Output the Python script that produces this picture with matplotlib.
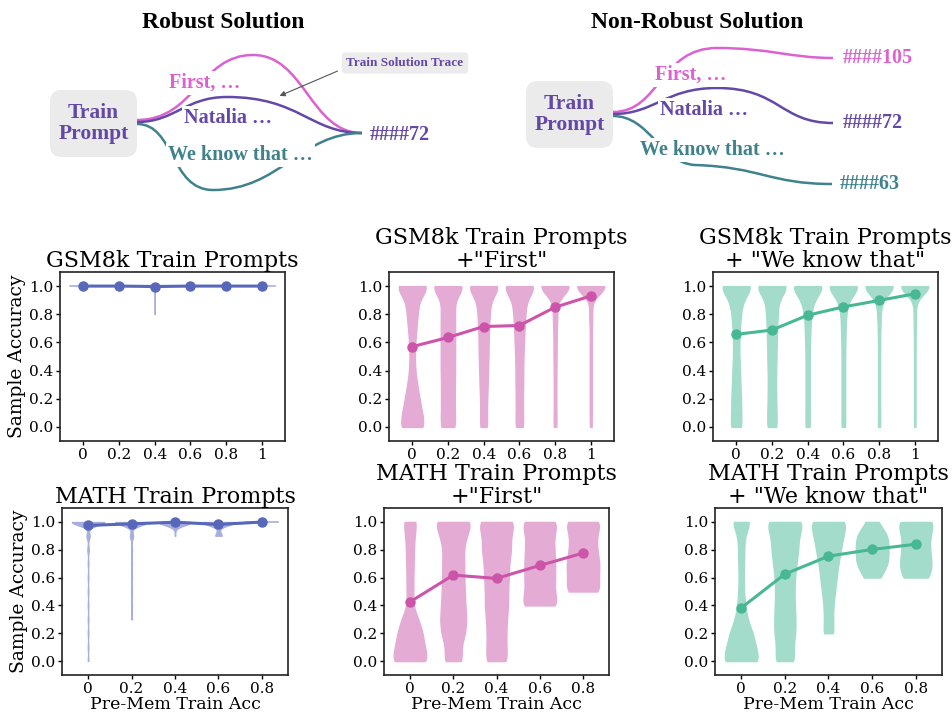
import numpy as np
import matplotlib
matplotlib.use('Agg')
import matplotlib.pyplot as plt
from matplotlib.path import Path
from matplotlib.patches import PathPatch, FancyBboxPatch

# accuracy levels for the per-prompt sample counts (0.0, 0.1, ..., 1.0)
levels = np.round(np.arange(11) * 0.1, 1)

gsm_ticks = ['0', '0.2', '0.4', '0.6', '0.8', '1']
math_ticks = ['0', '0.2', '0.4', '0.6', '0.8']

# GSM8k, plain train prompts
gsm_base_counts = [
    [0, 0, 0, 0, 0, 0, 0, 0, 0, 0, 60],
    [0, 0, 0, 0, 0, 0, 0, 0, 0, 0, 60],
    [0, 0, 0, 0, 0, 0, 0, 0, 1, 0, 60],
    [0, 0, 0, 0, 0, 0, 0, 0, 0, 0, 60],
    [0, 0, 0, 0, 0, 0, 0, 0, 0, 0, 60],
    [0, 0, 0, 0, 0, 0, 0, 0, 0, 0, 60],
]
gsm_base_mean = [1.0, 1.0, 0.997, 1.0, 1.0, 1.0]

# GSM8k + "First"
gsm_first_counts = [
    [46, 36, 27, 18, 11, 9, 11, 15, 20, 24, 66],
    [28, 25, 25, 25, 26, 26, 26, 26, 26, 24, 66],
    [14, 12, 13, 15, 16, 18, 18, 20, 22, 26, 66],
    [15, 13, 13, 14, 14, 15, 17, 19, 22, 26, 66],
    [6, 5, 5, 5, 5, 6, 6, 7, 9, 8, 76],
    [4, 4, 4, 4, 4, 4, 4, 4, 7, 2, 80],
]
gsm_first_mean = [0.57, 0.635, 0.713, 0.72, 0.85, 0.93]

# GSM8k + "We know that"
gsm_know_counts = [
    [22, 19, 19, 16, 15, 12, 12, 14, 18, 26, 70],
    [19, 17, 16, 15, 16, 17, 18, 19, 22, 24, 68],
    [9, 8, 8, 8, 8, 8, 9, 11, 13, 24, 70],
    [8, 7, 7, 7, 7, 7, 8, 9, 11, 20, 74],
    [5, 4, 4, 4, 4, 4, 4, 5, 7, 10, 76],
    [3, 3, 3, 3, 3, 3, 3, 4, 5, 3, 80],
]
gsm_know_mean = [0.657, 0.688, 0.793, 0.852, 0.898, 0.945]

# MATH, plain train prompts
math_base_counts = [
    [1, 1, 1, 1, 1, 1, 1, 1, 2, 4, 40],
    [0, 0, 0, 1, 1, 1, 1, 1, 1, 3, 30],
    [0, 0, 0, 0, 0, 0, 0, 0, 0, 1, 40],
    [0, 0, 0, 0, 0, 0, 0, 0, 0, 5, 25],
    [0, 0, 0, 0, 0, 0, 0, 0, 0, 0, 40],
]
math_base_mean = [0.975, 0.986, 0.998, 0.982, 0.999]

# MATH + "First"
math_first_counts = [
    [66, 52, 45, 30, 10, 12, 12, 13, 14, 16, 24],
    [34, 28, 44, 48, 44, 42, 40, 40, 38, 48, 72],
    [40, 36, 36, 38, 43, 42, 45, 46, 54, 52, 70],
    [0, 0, 0, 0, 56, 44, 46, 46, 44, 42, 56],
    [0, 0, 0, 0, 0, 52, 46, 50, 42, 40, 56],
]
math_first_mean = [0.425, 0.618, 0.594, 0.687, 0.776]

# MATH + "We know that"
math_know_counts = [
    [68, 52, 42, 22, 14, 10, 9, 10, 11, 12, 36],
    [36, 30, 38, 38, 36, 34, 36, 42, 48, 50, 70],
    [0, 0, 20, 16, 18, 24, 30, 36, 46, 54, 70],
    [0, 0, 0, 0, 0, 0, 20, 40, 40, 40, 14],
    [0, 0, 0, 0, 0, 0, 36, 42, 36, 36, 50],
]
math_know_mean = [0.382, 0.625, 0.754, 0.802, 0.84]

plt.rcParams['font.family'] = 'DejaVu Serif'

W, H = 953, 719
fig = plt.figure(figsize=(W / 100, H / 100), dpi=100)


def px_axes(l, t, r, b):
    return fig.add_axes([l / W, 1 - b / H, (r - l) / W, (b - t) / H])


# ---------- schematic on top (pixel coordinates) ----------
dax = fig.add_axes([0, 0, 1, 1])
dax.set_xlim(0, W)
dax.set_ylim(H, 0)
dax.axis('off')

PINK = '#dc62d0'
PURPLE = '#6448a8'
TEAL = '#3f828c'
dfont = dict(family='Liberation Serif', weight='bold')


def curve(p0, c1, c2, p1, c3, c4, p2, color):
    verts = [p0, c1, c2, p1, c3, c4, p2]
    codes = [Path.MOVETO] + [Path.CURVE4] * 6
    dax.add_patch(PathPatch(Path(verts, codes), fill=False, edgecolor=color,
                            lw=1.8, zorder=1))


def label(x, y, s, color, size=14.5, ha='left'):
    dax.text(x, y, s, color=color, fontsize=size, ha=ha, va='center', zorder=3,
             bbox=dict(boxstyle='square,pad=0.1', fc='white', ec='none'), **dfont)


def prompt_box(x0, y0, x1, y1):
    dax.add_patch(FancyBboxPatch((x0, y0), x1 - x0, y1 - y0,
                                 boxstyle='round,pad=0,rounding_size=12',
                                 fc='#ebebeb', ec='none', zorder=2))
    dax.text((x0 + x1) / 2, (y0 + y1) / 2, 'Train\nPrompt', color=PURPLE,
             fontsize=15.5, ha='center', va='center', linespacing=1.1, zorder=3, **dfont)


# robust solution
dax.text(223, 22, 'Robust Solution', fontsize=17, ha='center', va='center', **dfont)
prompt_box(50, 90, 137, 157)
curve((137, 120), (195, 120), (200, 55), (253, 55), (305, 55), (310, 133), (362, 133), PINK)
curve((137, 122), (175, 122), (185, 97), (227, 97), (300, 97), (310, 133), (362, 133), PURPLE)
curve((137, 124), (175, 124), (170, 190), (213, 190), (280, 190), (300, 133), (362, 133), TEAL)
label(169, 83, 'First, …', PINK)
label(184, 118, 'Natalia …', PURPLE)
label(168, 155, 'We know that …', TEAL)
dax.text(370, 135, '####72', color=PURPLE, fontsize=14.5, va='center', **dfont)
dax.annotate('', xy=(277, 97), xytext=(340, 70),
             arrowprops=dict(arrowstyle='-|>', color='#555555', lw=0.8,
                             mutation_scale=8))
dax.text(405, 63, 'Train Solution Trace', color=PURPLE, fontsize=9.5, ha='center',
         va='center', zorder=3,
         bbox=dict(boxstyle='round,pad=0.35,rounding_size=0.3', fc='#ececec', ec='none'),
         **dfont)

# non-robust solution
dax.text(697, 22, 'Non-Robust Solution', fontsize=17, ha='center', va='center', **dfont)
prompt_box(526, 81, 613, 148)
curve((613, 112), (660, 112), (660, 48), (717, 48), (770, 48), (790, 58), (833, 58), PINK)
curve((613, 114), (655, 114), (665, 88), (717, 88), (780, 88), (780, 123), (833, 123), PURPLE)
curve((613, 116), (650, 116), (660, 163), (695, 165), (760, 167), (770, 184), (832, 184), TEAL)
label(655, 75, 'First, …', PINK)
label(660, 110, 'Natalia …', PURPLE)
label(640, 150, 'We know that …', TEAL)
dax.text(843, 58, '####105', color=PINK, fontsize=14.5, va='center', **dfont)
dax.text(843, 123, '####72', color=PURPLE, fontsize=14.5, va='center', **dfont)
dax.text(840, 184, '####63', color=TEAL, fontsize=14.5, va='center', **dfont)


# ---------- violin panels ----------
def draw_violin(ax, pos, counts, bw, color, lw):
    counts = np.asarray(counts, float)
    vals = levels[counts > 0]
    lo, hi = vals.min(), vals.max()
    if lo == hi:
        ax.plot([pos - 0.375, pos + 0.375], [hi, hi], color=color, lw=1.2, zorder=1)
        return
    y = np.linspace(lo, hi, 500)
    dens = (counts[None, :] * np.exp(-0.5 * ((y[:, None] - levels[None, :]) / bw) ** 2)).sum(1)
    half = 0.375 * dens / dens.max()
    ax.fill_betweenx(y, pos - half, pos + half, facecolor=color, edgecolor=color,
                     lw=lw, zorder=1)


BLUE_V, BLUE_L = '#a7afdb', '#5767ba'
PINK_V, PINK_L = '#e4abd4', '#cc55aa'
TEAL_V, TEAL_L = '#a4dccb', '#47b893'

panels = [
    ((60, 272, 285, 441), 'GSM8k Train Prompts', gsm_base_counts, gsm_base_mean,
     gsm_ticks, BLUE_V, BLUE_L, 0.005),
    ((389, 272, 614, 441), 'GSM8k Train Prompts\n+"First"', gsm_first_counts,
     gsm_first_mean, gsm_ticks, PINK_V, PINK_L, 0.06),
    ((713, 272, 938, 441), 'GSM8k Train Prompts\n+ "We know that"', gsm_know_counts,
     gsm_know_mean, gsm_ticks, TEAL_V, TEAL_L, 0.06),
    ((62, 508, 288, 675), 'MATH Train Prompts', math_base_counts, math_base_mean,
     math_ticks, BLUE_V, BLUE_L, 0.025),
    ((384, 508, 609, 675), 'MATH Train Prompts\n+"First"', math_first_counts,
     math_first_mean, math_ticks, PINK_V, PINK_L, 0.06),
    ((715, 508, 942, 675), 'MATH Train Prompts\n+ "We know that"', math_know_counts,
     math_know_mean, math_ticks, TEAL_V, TEAL_L, 0.06),
]

for i, (rect, title, counts, means, ticks, vcol, lcol, bw) in enumerate(panels):
    ax = px_axes(*rect)
    n = len(ticks)
    for k in range(n):
        draw_violin(ax, k, counts[k], bw, vcol, 0.8 if vcol == BLUE_V else 1.0)
    ax.plot(range(n), means, '-o', color=lcol, lw=2.2, ms=6.5, zorder=3)
    pad = 0.65 if n == 6 else 0.6
    ax.set_xlim(-pad, n - 1 + pad)
    ax.set_ylim(-0.1, 1.1)
    ax.set_xticks(range(n))
    ax.set_xticklabels(ticks)
    ax.set_yticks(np.arange(0, 1.01, 0.2))
    ax.set_yticklabels(['%.1f' % v for v in np.arange(0, 1.01, 0.2)])
    ax.tick_params(labelsize=11, length=3, width=1, pad=2)
    for s in ax.spines.values():
        s.set_linewidth(1.2)
        s.set_color('#222222')
    ax.set_title(title, fontsize=16, pad=3, linespacing=1.05)
    if i % 3 == 0:
        ax.set_ylabel('Sample Accuracy', fontsize=13.5, labelpad=2)
    if i >= 3:
        ax.set_xlabel('Pre-Mem Train Acc', fontsize=12.5, labelpad=0)

fig.savefig('out.png', dpi=100)
